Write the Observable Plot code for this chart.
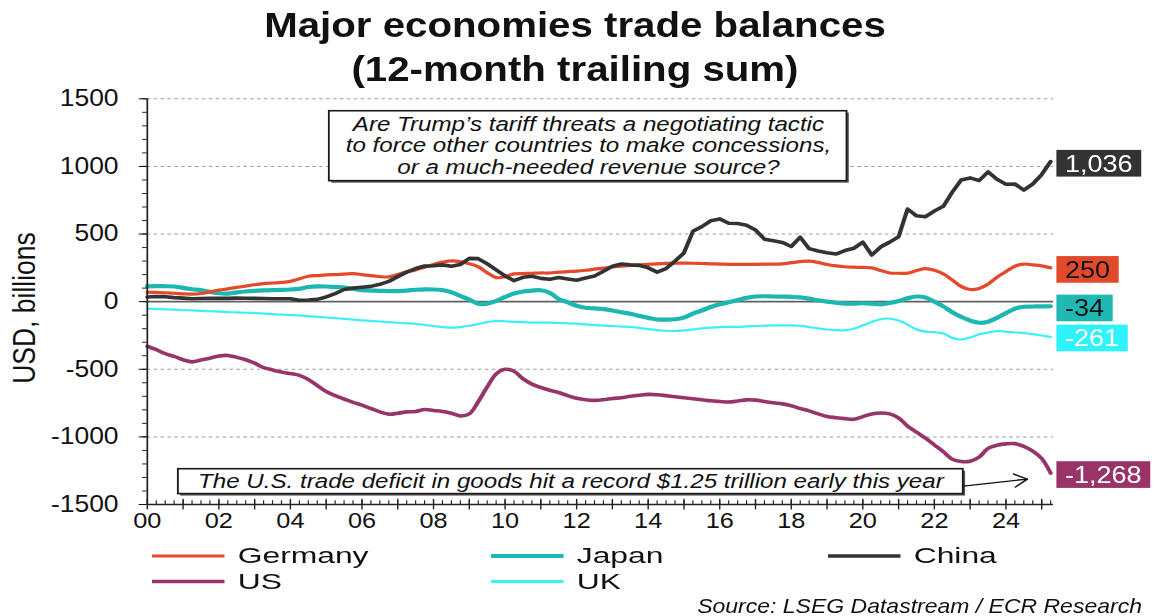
<!DOCTYPE html>
<html><head><meta charset="utf-8">
<script src="https://cdn.jsdelivr.net/npm/d3@7"></script>
<script src="https://cdn.jsdelivr.net/npm/@observablehq/plot@0.6"></script>
<style>
html,body{margin:0;padding:0;background:#fff;overflow:hidden;}
#stage{position:absolute;left:0;top:0;width:1006px;height:616px;transform:scaleX(1.15);transform-origin:0 0;}
</style></head>
<body><div id="stage"></div>
<script>
// ---------- data (quarterly, 2000.00 .. 2025.25) ----------
const years = d3.range(102).map(i => 2000 + i * 0.25);
const germany = [70,68,65,62, 58,55,60,72, 85,95,105,115, 125,133,138,142, 150,170,188,193, 198,200,204,207, 200,192,185,183, 200,220,235,255, 275,292,302,295, 280,258,215,178, 185,205,208,210, 212,212,218,222, 226,232,240,248, 256,262,268,272, 276,280,283,285, 285,284,282,280, 278,276,275,276, 276,277,277,280, 288,296,300,290, 275,265,258,255, 253,250,230,212, 210,211,230,244, 232,205,160,112, 90,98,130,180, 222,262,278,272, 265,250];
const japan = [113,115,114,112, 102,92,85,72, 62,60,68,75, 80,83,85,87, 90,95,108,113, 112,108,104,95, 85,82,80,78, 78,82,88,91, 90,85,70,42, 15,-15,-15,5, 35,60,75,82, 84,65,20,-5, -30,-45,-50,-55, -65,-78,-90,-105, -120,-132,-133,-130, -118,-88,-65,-40, -20,-5,12,28, 38,40,38,37, 35,32,22,10, 0,-8,-14,-15, -12,-15,-20,-10, 5,25,38,30, 0,-35,-78,-112, -140,-156,-148,-120, -85,-52,-38,-36, -35,-34];
const china = [34,38,36,30, 26,22,23,24, 25,24,26,25, 24,23,22,22, 22,10,12,17, 35,60,90,100, 106,113,128,150, 185,218,245,263, 266,272,262,275, 320,318,280,235, 190,155,180,188, 172,165,178,168, 158,175,190,225, 262,278,272,268, 250,218,245,300, 360,520,555,598, 612,580,578,565, 530,462,450,438, 408,477,392,375, 362,352,378,395, 440,345,405,440, 480,685,635,628, 670,705,810,900, 915,895,960,905, 868,870,825,870, 940,1036];
const us = [-330,-355,-385,-405, -430,-445,-432,-418, -402,-398,-412,-430, -455,-488,-505,-520, -532,-545,-575,-620, -665,-695,-720,-745, -765,-790,-815,-832, -825,-815,-812,-798, -805,-812,-825,-845, -830,-740,-631,-535, -500,-515,-570,-610, -635,-655,-672,-695, -715,-726,-730,-725, -716,-710,-700,-692, -686,-688,-695,-703, -710,-718,-725,-733, -738,-742,-735,-726, -728,-738,-748,-756, -770,-790,-808,-830, -850,-858,-865,-870, -850,-830,-823,-830, -860,-920,-965,-1010, -1060,-1110,-1165,-1182, -1180,-1150,-1085,-1062, -1052,-1050,-1070,-1105, -1160,-1268];
const uk = [-52,-54,-57,-59, -62,-65,-68,-71, -74,-77,-80,-82, -85,-88,-92,-96, -99,-102,-107,-112, -117,-122,-127,-133, -138,-142,-147,-152, -156,-160,-164,-172, -180,-188,-192,-188, -178,-165,-152,-143, -145,-150,-152,-155, -155,-155,-158,-160, -163,-168,-173,-177, -180,-184,-187,-195, -203,-210,-215,-217, -213,-205,-198,-192, -188,-187,-186,-183, -180,-178,-176,-175, -175,-178,-188,-198, -206,-210,-212,-200, -175,-150,-130,-125, -140,-170,-205,-222, -226,-236,-268,-280, -265,-242,-228,-218, -222,-228,-232,-240, -250,-261];

const seriesNames = ["Germany", "Japan", "China", "US", "UK"];
const xLabelYears = d3.range(2000, 2025, 2);
const yMajorTicks = [-1500, -1000, -500, 0, 500, 1000, 1500];
const yMinorTicks = d3.range(-1500, 1501, 100);
const gridValues = [-1000, -500, 500, 1000, 1500];
const titleLines = ["Major economies trade balances", "(12-month trailing sum)"];
const noteTop = ["Are Trump\u2019s tariff threats a negotiating tactic", "to force other countries to make concessions,", "or a much-needed revenue source?"];
const noteBottom = "The U.S. trade deficit in goods hit a record $1.25 trillion early this year";
const yTitle = "USD, billions";
const sourceText = "Source: LSEG Datastream / ECR Research";

// ---------- styles & layout ----------
const style = {
  Germany: {color: "#e5482a", width: 3.2, labelFill: "#e24a2b", labelText: "#111"},
  Japan:   {color: "#1db7b2", width: 4.2, labelFill: "#1fb8b3", labelText: "#111"},
  China:   {color: "#333333", width: 3.6, labelFill: "#333333", labelText: "#fff"},
  US:      {color: "#97346a", width: 3.6, labelFill: "#9a3468", labelText: "#fff"},
  UK:      {color: "#3cf0fb", width: 2.2, labelFill: "#2ff2fd", labelText: "#fff"}
};
const valuesOf = {Germany: germany, Japan: japan, China: china, US: us, UK: uk};
const drawOrder = ["UK", "US", "Japan", "Germany", "China"];
const W = 1006, H = 616;
const frame = {left: 127.6, right: 915.6, top: 98.3, bottom: 504};
const labelPos = {China: 1020, Germany: 235, Japan: -50, UK: -272, US: -1282};
const box1 = {x1: 2005.09, x2: 2019.56, y1: 891, y2: 1408, cx: 2012.33, lines: [1315, 1154, 990]};
const box2 = {x1: 2000.87, x2: 2022.81, y1: -1423, y2: -1239, cx: 2011.84, cy: -1331};
const arrow = {x1: 2022.81, y1: -1364, x2: 2024.6, y2: -1312};
const FONT = "'Liberation Sans', Arial, Helvetica, sans-serif";

const quarters = years.filter(y => y <= 2025.3);
const yearTicks = d3.range(2000, 2026);

const lineMarks = drawOrder.map(name => Plot.line(
  years.map((x, i) => ({x, y: valuesOf[name][i]})),
  {x: "x", y: "y", stroke: style[name].color, strokeWidth: style[name].width,
   curve: name === "China" ? "linear" : "catmull-rom", strokeLinejoin: "round", strokeLinecap: "round"}
));

const plot = Plot.plot({
  width: W, height: H,
  marginLeft: frame.left, marginRight: W - frame.right, marginTop: frame.top, marginBottom: H - frame.bottom,
  x: {domain: [2000, 2025.33]},
  y: {domain: [-1500, 1500]},
  style: {fontFamily: FONT, background: "white", overflow: "visible"},
  marks: [
    Plot.ruleY(gridValues, {stroke: "#9d9d9d", strokeWidth: 1, strokeDasharray: "3,3"}),
    Plot.ruleY([0], {stroke: "#606060", strokeWidth: 1.6}),
    ...lineMarks,
    // top annotation box
    Plot.rect([box1], {x1: "x1", x2: "x2", y1: "y1", y2: "y2", fill: "#555", dx: 2, dy: 2}),
    Plot.rect([box1], {x1: "x1", x2: "x2", y1: "y1", y2: "y2", fill: "white", stroke: "#1a1a1a", strokeWidth: 1.6}),
    Plot.text(noteTop, {x: () => box1.cx, y: (d, i) => box1.lines[i], text: d => d,
      fontSize: 21, fontStyle: "italic", fill: "#111", lineAnchor: "middle"}),
    // bottom annotation box
    Plot.rect([box2], {x1: "x1", x2: "x2", y1: "y1", y2: "y2", fill: "#555", dx: 2, dy: 2}),
    Plot.rect([box2], {x1: "x1", x2: "x2", y1: "y1", y2: "y2", fill: "white", stroke: "#1a1a1a", strokeWidth: 1.6}),
    Plot.text([noteBottom], {x: () => box2.cx, y: () => box2.cy, text: d => d,
      fontSize: 21, fontStyle: "italic", fill: "#111", lineAnchor: "middle"}),
    Plot.arrow([arrow], {x1: "x1", y1: "y1", x2: "x2", y2: "y2", stroke: "#111", strokeWidth: 1.4, headLength: 14}),
    // axes
    Plot.ruleX([2000], {stroke: "#222", strokeWidth: 1.5}),
    Plot.ruleY([-1500], {stroke: "#222", strokeWidth: 1.5}),
    Plot.axisY({ticks: yMinorTicks, tickSize: 4, tickFormat: () => "", label: null, color: "#222"}),
    Plot.axisY({ticks: yMajorTicks, tickSize: 7, tickPadding: 18, tickFormat: d => String(d),
      fontSize: 23, label: null, color: "#111"}),
    Plot.ruleX(quarters, {x: d => d, y1: -1500, y2: -1472, stroke: "#222", strokeWidth: 1}),
    Plot.ruleX(yearTicks, {x: d => d, y1: -1540, y2: -1462, stroke: "#222", strokeWidth: 1.2}),
    Plot.axisX({ticks: xLabelYears, tickSize: 0, tickPadding: 8, fontSize: 22, label: null, color: "#111",
      tickFormat: d => String(d % 100).padStart(2, "0")})
  ]
});

document.getElementById("stage").appendChild(plot);

const svg = d3.select(plot);
const xs = plot.scale("x"), ys = plot.scale("y");
const fmt = v => d3.format(",")(v).replace(/\u2212/g, "-");

// end-value labels
const endG = svg.append("g").attr("font-family", FONT).attr("font-size", 23.5).attr("text-anchor", "start");
["China", "Germany", "Japan", "UK", "US"].forEach(name => {
  const v = valuesOf[name][valuesOf[name].length - 1];
  const yc = ys.apply(labelPos[name]);
  const x0 = xs.apply(2025.33) + 3;
  const r = endG.append("rect").attr("x", x0).attr("y", yc - 13.3).attr("height", 26.7).attr("fill", style[name].labelFill);
  const t = endG.append("text").attr("x", x0 + 7.5).attr("y", yc).attr("dy", "0.36em")
    .attr("text-anchor", "start").attr("fill", style[name].labelText).text(fmt(v));
  r.attr("width", t.node().getComputedTextLength() + 15);
});

// title
const tg = svg.append("g").attr("font-family", FONT).attr("font-weight", "bold").attr("font-size", 35).attr("text-anchor", "middle").attr("fill", "#111");
titleLines.forEach((s, i) => tg.append("text").attr("x", 500).attr("y", [37, 81][i]).text(s));

// y title
svg.append("text").attr("font-family", FONT).attr("font-size", 26.5).attr("fill", "#111")
  .attr("text-anchor", "middle").attr("transform", "translate(30,308) rotate(-90)").text(yTitle);

// legend
const legPos = {Germany: [132.2, 556], Japan: [427, 556], China: [720, 556], US: [132.2, 581.5], UK: [427, 581.5]};
const lg = svg.append("g").attr("font-family", FONT).attr("font-size", 22.5).attr("fill", "#111").attr("text-anchor", "start");
seriesNames.forEach(name => {
  const [lx, ly] = legPos[name];
  lg.append("line").attr("x1", lx).attr("x2", lx + 63).attr("y1", ly).attr("y2", ly)
    .attr("stroke", style[name].color).attr("stroke-width", Math.max(3, style[name].width));
  const t = lg.append("text").attr("x", lx + 74.5).attr("y", ly + 7.4).attr("text-anchor", "start").text(name);
  const w = t.node().getComputedTextLength();
  t.attr("textLength", w * 1.23).attr("lengthAdjust", "spacingAndGlyphs");
});

// source
svg.append("text").attr("font-family", FONT).attr("font-size", 20).attr("font-style", "italic")
  .attr("text-anchor", "end").attr("x", 993).attr("y", 613).attr("fill", "#111").text(sourceText);
</script>
</body></html>
